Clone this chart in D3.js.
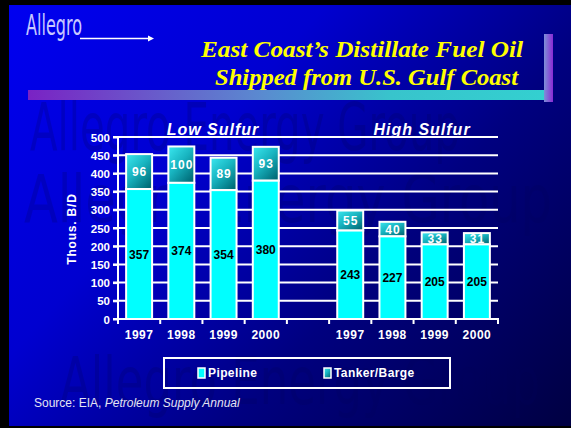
<!DOCTYPE html>
<html>
<head>
<meta charset="utf-8">
<script src="https://cdn.jsdelivr.net/npm/d3@7"></script>
<style>
  html, body { margin: 0; padding: 0; background: #000; }
  svg { display: block; }
  .tick-label { font-family: "Liberation Sans", Arial, sans-serif; font-weight: bold; fill: #fff; }
</style>
</head>
<body>
<div id="chart"></div>
<script>
// Data
const years = ['1997', '1998', '1999', '2000'];
const lowPipeline = [357, 374, 354, 380];
const lowTanker = [96, 100, 89, 93];
const highPipeline = [243, 227, 205, 205];
const highTanker = [55, 40, 33, 31];
const yTicks = [0, 50, 100, 150, 200, 250, 300, 350, 400, 450, 500];
const seriesNames = ['Pipeline', 'Tanker/Barge'];

const Chart = {

  config: {
    width: 571,
    height: 428,
    plotLeft: 118,
    plotRight: 498,
    plotTop: 137,
    plotBottom: 319,
  },

  svg: null,
  x: null,
  y: null,

  render() {
    const cfg = this.config;

    this.svg = d3.select('#chart')
      .append('svg')
      .attr('width', cfg.width)
      .attr('height', cfg.height);

    // one cell per year, an empty cell between the two groups
    const cells = years.map(y => 'L' + y).concat(['gap'], years.map(y => 'H' + y));
    this.x = d3.scaleBand()
      .domain(cells)
      .range([cfg.plotLeft, cfg.plotRight])
      .paddingInner(0.385)
      .paddingOuter(0.1925);

    this.y = d3.scaleLinear()
      .domain([0, 500])
      .range([cfg.plotBottom, cfg.plotTop]);

    this._renderDefs();
    this._renderBackground();
    this._renderHeader();
    this._renderGrid();
    this._renderBars();
    this._renderAxes();
    this._renderLegend();
  },

  _renderDefs() {
    const defs = this.svg.append('defs');

    const bg = defs.append('linearGradient')
      .attr('id', 'bg')
      .attr('gradientUnits', 'userSpaceOnUse')
      .attr('x1', 0).attr('y1', 0).attr('x2', 520).attr('y2', 470);
    bg.append('stop').attr('offset', 0).attr('stop-color', '#0000f2');
    bg.append('stop').attr('offset', 0.35).attr('stop-color', '#0000d0');
    bg.append('stop').attr('offset', 0.65).attr('stop-color', '#000080');
    bg.append('stop').attr('offset', 1).attr('stop-color', '#000044');

    const tank = defs.append('linearGradient')
      .attr('id', 'tank')
      .attr('x1', 0).attr('y1', 0).attr('x2', 0.8).attr('y2', 1);
    tank.append('stop').attr('offset', 0).attr('stop-color', '#3ae8f0');
    tank.append('stop').attr('offset', 0.5).attr('stop-color', '#18b4c0');
    tank.append('stop').attr('offset', 1).attr('stop-color', '#006c78');

    const rule = defs.append('linearGradient')
      .attr('id', 'rule')
      .attr('x1', 0).attr('y1', 0).attr('x2', 1).attr('y2', 0);
    rule.append('stop').attr('offset', 0).attr('stop-color', '#7a22c4');
    rule.append('stop').attr('offset', 0.45).attr('stop-color', '#5a8ad0');
    rule.append('stop').attr('offset', 0.7).attr('stop-color', '#38c4cc');
    rule.append('stop').attr('offset', 1).attr('stop-color', '#33d0d0');

    const post = defs.append('linearGradient')
      .attr('id', 'post')
      .attr('x1', 0).attr('y1', 0).attr('x2', 1).attr('y2', 0);
    post.append('stop').attr('offset', 0).attr('stop-color', '#7c90d8');
    post.append('stop').attr('offset', 1).attr('stop-color', '#8a2ad4');
  },

  _renderBackground() {
    const cfg = this.config;
    this.svg.append('rect')
      .attr('width', cfg.width).attr('height', cfg.height)
      .attr('fill', '#000');
    this.svg.append('rect')
      .attr('x', 9).attr('y', 5)
      .attr('width', cfg.width - 9).attr('height', 421)
      .attr('fill', 'url(#bg)');

    // faint company watermark behind everything
    const wm = this.svg.append('g')
      .attr('font-family', '"DejaVu Sans Condensed", "DejaVu Sans", sans-serif')
      .attr('font-size', 66)
      .attr('fill', '#00005c')
      .attr('fill-opacity', 0.22);
    [[30, 150, 430], [24, 222, 528], [60, 404, 480]].forEach(([x, y, len]) => {
      wm.append('text')
        .attr('x', x).attr('y', y)
        .attr('textLength', len)
        .attr('lengthAdjust', 'spacingAndGlyphs')
        .text('Allegro Energy Group');
    });
  },

  _renderHeader() {
    const g = this.svg.append('g');

    g.append('text')
      .attr('x', 26).attr('y', 35)
      .attr('font-family', '"DejaVu Sans ExtraLight", "DejaVu Sans Condensed", sans-serif')
      .attr('font-weight', 200)
      .attr('font-size', 29)
      .attr('fill', '#c8c8ff')
      .attr('textLength', 56)
      .attr('lengthAdjust', 'spacingAndGlyphs')
      .text('Allegro');

    g.append('line')
      .attr('x1', 80).attr('x2', 149)
      .attr('y1', 38.5).attr('y2', 38.5)
      .attr('stroke', '#fff').attr('stroke-width', 1.6);
    g.append('path')
      .attr('d', 'M148,35.5 L154,38.5 L148,41.5 Z')
      .attr('fill', '#fff');

    // title rule + post
    g.append('rect')
      .attr('x', 28).attr('y', 90).attr('width', 518).attr('height', 10)
      .attr('fill', 'url(#rule)');
    g.append('rect')
      .attr('x', 544).attr('y', 34).attr('width', 9).attr('height', 68)
      .attr('fill', 'url(#post)');

    const title = g.append('g')
      .attr('font-family', '"Liberation Serif", "Times New Roman", serif')
      .attr('font-weight', 'bold')
      .attr('font-style', 'italic')
      .attr('font-size', 24)
      .attr('fill', '#ffff00');
    title.append('text')
      .attr('x', 201).attr('y', 57)
      .attr('textLength', 322).attr('lengthAdjust', 'spacingAndGlyphs')
      .text('East Coast\u2019s Distillate Fuel Oil');
    title.append('text')
      .attr('x', 215).attr('y', 85)
      .attr('textLength', 303).attr('lengthAdjust', 'spacingAndGlyphs')
      .text('Shipped from U.S. Gulf Coast');
  },

  _renderGrid() {
    const cfg = this.config;
    const g = this.svg.append('g');

    g.selectAll('line.grid')
      .data(yTicks.filter(t => t > 0))
      .join('line')
      .attr('class', 'grid')
      .attr('x1', cfg.plotLeft - 5)
      .attr('x2', cfg.plotRight)
      .attr('y1', d => this.y(d))
      .attr('y2', d => this.y(d))
      .attr('stroke', '#fff')
      .attr('stroke-width', 2);
  },

  _renderBars() {
    const g = this.svg.append('g');
    const rows = years.map((yr, i) => ({ key: 'L' + yr, pipe: lowPipeline[i], tank: lowTanker[i] }))
      .concat(years.map((yr, i) => ({ key: 'H' + yr, pipe: highPipeline[i], tank: highTanker[i] })));
    const bw = this.x.bandwidth();

    rows.forEach(r => {
      const x = this.x(r.key);
      const y0 = this.y(0);
      const y1 = this.y(r.pipe);
      const y2 = this.y(r.pipe + r.tank);

      g.append('rect')
        .attr('x', x).attr('y', y2)
        .attr('width', bw).attr('height', y1 - y2)
        .attr('fill', 'url(#tank)')
        .attr('stroke', '#fff').attr('stroke-width', 2);

      g.append('rect')
        .attr('x', x).attr('y', y1)
        .attr('width', bw).attr('height', y0 - y1)
        .attr('fill', '#00ffff')
        .attr('stroke', '#fff').attr('stroke-width', 2);

      g.append('text')
        .attr('class', 'tick-label')
        .attr('x', x + bw / 2)
        .attr('y', (y0 + y1) / 2 + 4.5)
        .attr('text-anchor', 'middle')
        .attr('font-size', 12)
        .style('fill', '#000')
        .text(r.pipe);

      g.append('text')
        .attr('class', 'tick-label')
        .attr('x', x + bw / 2 + 0.5)
        .attr('y', (y1 + y2) / 2 + 4.5)
        .attr('text-anchor', 'middle')
        .attr('font-size', 12)
        .attr('letter-spacing', 1)
        .text(r.tank);
    });
  },

  _renderAxes() {
    const cfg = this.config;
    const g = this.svg.append('g');

    // y axis
    const yAxis = g.append('g')
      .attr('transform', `translate(${cfg.plotLeft},0)`)
      .call(d3.axisLeft(this.y).tickValues(yTicks).tickSize(5).tickPadding(3));
    yAxis.select('.domain').remove();
    yAxis.selectAll('.tick line').attr('stroke', '#fff').attr('stroke-width', 2);
    yAxis.selectAll('.tick text')
      .attr('class', 'tick-label')
      .attr('font-size', 11.5)
      .attr('dy', '0.36em');

    g.append('line')
      .attr('x1', cfg.plotLeft).attr('x2', cfg.plotLeft)
      .attr('y1', cfg.plotTop - 1).attr('y2', cfg.plotBottom + 4)
      .attr('stroke', '#fff').attr('stroke-width', 2);

    // baseline with ticks at cell boundaries
    g.append('line')
      .attr('x1', cfg.plotLeft - 5).attr('x2', cfg.plotRight + 1)
      .attr('y1', this.y(0)).attr('y2', this.y(0))
      .attr('stroke', '#fff').attr('stroke-width', 2);

    const step = this.x.step();
    const bounds = d3.range(this.x.domain().length + 1).map(i => cfg.plotLeft + i * step);
    g.selectAll('line.xtick')
      .data(bounds)
      .join('line')
      .attr('x1', d => d).attr('x2', d => d)
      .attr('y1', this.y(0)).attr('y2', this.y(0) + 5)
      .attr('stroke', '#fff').attr('stroke-width', 2);

    const bw = this.x.bandwidth();
    this.x.domain().filter(k => k !== 'gap').forEach(k => {
      g.append('text')
        .attr('class', 'tick-label')
        .attr('x', this.x(k) + bw / 2)
        .attr('y', 339)
        .attr('text-anchor', 'middle')
        .attr('font-size', 12)
        .attr('letter-spacing', 0.5)
        .text(k.slice(1));
    });

    // axis title
    g.append('text')
      .attr('class', 'tick-label')
      .attr('transform', 'translate(76,229) rotate(-90)')
      .attr('text-anchor', 'middle')
      .attr('font-size', 12)
      .attr('letter-spacing', 0.8)
      .text('Thous. B/D');

    // group titles
    [['Low Sulfur', 213], ['High Sulfur', 422]].forEach(([t, x]) => {
      g.append('text')
        .attr('class', 'tick-label')
        .attr('x', x).attr('y', 135)
        .attr('text-anchor', 'middle')
        .attr('font-size', 16)
        .attr('font-style', 'italic')
        .attr('letter-spacing', 1)
        .text(t);
    });

    // source line
    const src = g.append('text')
      .attr('x', 34).attr('y', 407)
      .attr('font-family', '"Liberation Sans", Arial, sans-serif')
      .attr('font-size', 12)
      .attr('fill', '#e4e4f4');
    src.append('tspan').text('Source: EIA, ');
    src.append('tspan').attr('font-style', 'italic').text('Petroleum Supply Annual');
  },

  _renderLegend() {
    const g = this.svg.append('g');
    g.append('rect')
      .attr('x', 164).attr('y', 358)
      .attr('width', 286).attr('height', 30)
      .attr('fill', 'none')
      .attr('stroke', '#fff').attr('stroke-width', 2);

    const fills = ['#00ffff', 'url(#tank)'];
    const xs = [198, 324];
    seriesNames.forEach((name, i) => {
      g.append('rect')
        .attr('x', xs[i]).attr('y', 368)
        .attr('width', 7).attr('height', 10)
        .attr('fill', fills[i])
        .attr('stroke', '#fff').attr('stroke-width', 1.5);
      g.append('text')
        .attr('class', 'tick-label')
        .attr('x', xs[i] + 10).attr('y', 376.5)
        .attr('font-size', 12)
        .attr('letter-spacing', 0.4)
        .text(name);
    });
  },
};

Chart.render();
</script>
</body>
</html>
